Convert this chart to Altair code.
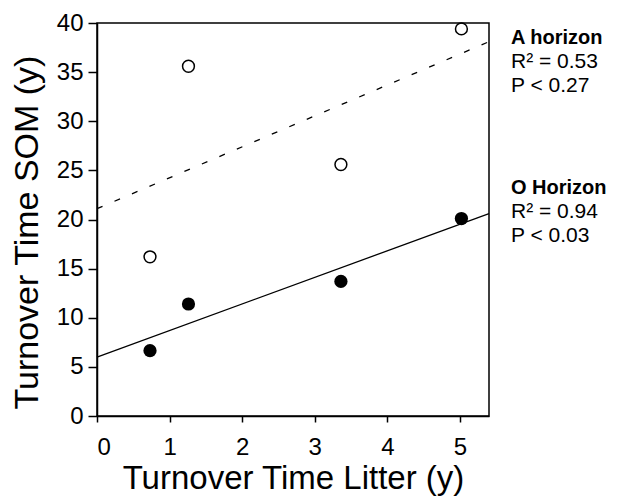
import altair as alt
import pandas as pd

# Data
litter_x = [0.73, 1.26, 3.36, 5.02]
a_horizon_y = [16.2, 35.6, 25.6, 39.4]
o_horizon_y = [6.65, 11.4, 13.7, 20.1]

line_x = [0.0, 5.4]
a_line_y = [21.1, 38.1]
o_line_y = [6.0, 20.6]

a_label = ["A horizon"]
a_stats = ["R² = 0.53", "P < 0.27"]
o_label = ["O Horizon"]
o_stats = ["R² = 0.94", "P < 0.03"]

pts = pd.DataFrame(
    {"x": litter_x * 2,
     "y": a_horizon_y + o_horizon_y,
     "h": ["A"] * 4 + ["O"] * 4}
)
lines = pd.DataFrame(
    {"x": line_x * 2,
     "y": a_line_y + o_line_y,
     "h": ["A"] * 2 + ["O"] * 2}
)

FONT = "Liberation Sans"

xs = alt.Scale(domain=[0, 5.4], nice=False, zero=False)
ys = alt.Scale(domain=[0, 40], nice=False)

xax = alt.Axis(values=[0, 1, 2, 3, 4, 5], format="d", grid=False, title="Turnover Time Litter (y)",
               labelFontSize=24, titleFontSize=33, labelFont=FONT, titleFont=FONT,
               titleFontWeight="normal", labelColor="black", titleColor="black",
               domainColor="black", tickColor="black", domainWidth=1.5, tickWidth=1.5,
               tickSize=6, labelPadding=13, titlePadding=3)
yax = alt.Axis(values=[0, 5, 10, 15, 20, 25, 30, 35, 40], format="d", grid=False,
               title="Turnover Time SOM (y)",
               labelFontSize=24, titleFontSize=34, labelFont=FONT, titleFont=FONT,
               titleFontWeight="normal", labelColor="black", titleColor="black",
               domainColor="black", tickColor="black", domainWidth=1.5, tickWidth=1.5,
               tickSize=9, labelPadding=5, titleAngle=-90, titleBaseline="alphabetic",
               titleX=-60, titleY=209, titleAlign="center")

base_line = alt.Chart(lines)
solid = base_line.transform_filter(alt.datum.h == "O").mark_line(color="black", strokeWidth=1.3).encode(
    x=alt.X("x:Q", scale=xs, axis=xax), y=alt.Y("y:Q", scale=ys, axis=yax))
dashed = base_line.transform_filter(alt.datum.h == "A").mark_line(
    color="black", strokeWidth=1.3, strokeDash=[6, 13]).encode(
    x=alt.X("x:Q", scale=xs), y=alt.Y("y:Q", scale=ys))

base_pts = alt.Chart(pts)
open_pts = base_pts.transform_filter(alt.datum.h == "A").mark_point(
    shape="circle", filled=False, color="black", strokeWidth=1.5, size=140, opacity=1).encode(
    x=alt.X("x:Q", scale=xs), y=alt.Y("y:Q", scale=ys))
filled_pts = base_pts.transform_filter(alt.datum.h == "O").mark_point(
    shape="circle", filled=True, color="black", size=175, opacity=1).encode(
    x=alt.X("x:Q", scale=xs), y=alt.Y("y:Q", scale=ys))

def txt(lines_, y, bold):
    return alt.Chart(pd.DataFrame({"a": [0]})).mark_text(
        text=lines_ if len(lines_) > 1 else lines_[0], align="left", baseline="alphabetic",
        font=FONT, fontSize=20 if bold else 21, fontWeight="bold" if bold else "normal",
        lineHeight=24, color="black").encode(x=alt.value(414), y=alt.value(y))

annots = [
    txt(a_label, 21, True), txt(a_stats, 45, False),
    txt(o_label, 171, True), txt(o_stats, 195, False),
]

chart = alt.layer(dashed, solid, open_pts, filled_pts, *annots).properties(
    width=392, height=393,
    autosize=alt.AutoSizeParams(type="none"),
    padding={"left": 89, "top": 15, "right": 120, "bottom": 80},
    background="white",
).configure_view(stroke="black", strokeWidth=1.5)

chart.save("out.html", embed_options={"renderer": "svg", "actions": False})
